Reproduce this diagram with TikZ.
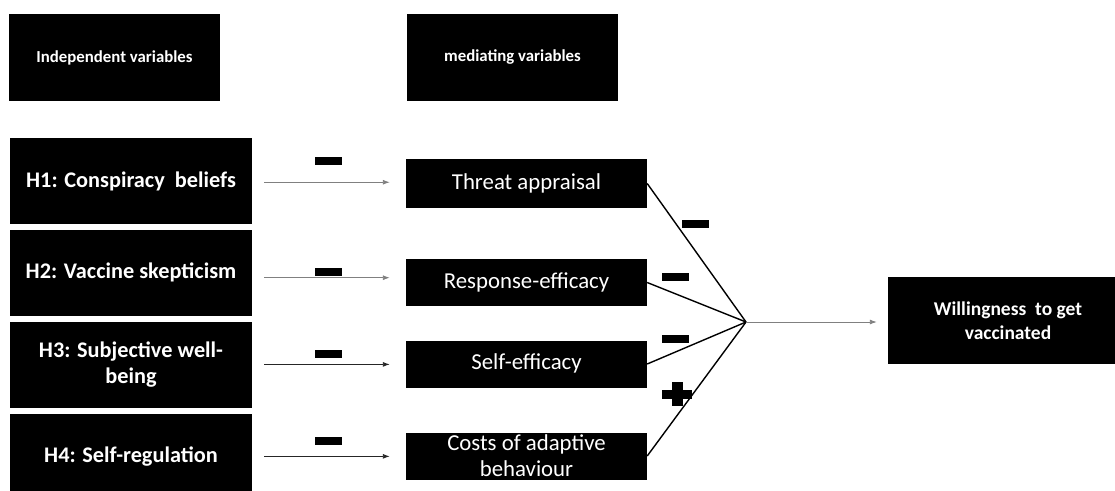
\documentclass[tikz,border=0pt]{standalone}
\usepackage{fontspec}
\setmainfont{Carlito}
\usetikzlibrary{positioning, arrows, arrows.meta, calc}

\begin{document}
\begin{tikzpicture}[x=1pt, y=-1pt,
    blackbox/.style = {shape=rectangle, fill=black, text=white,
    align=center, inner sep=0pt},
    headbox/.style = {blackbox, minimum width=211pt, minimum height=87pt,
    font=\bfseries\fontsize{16.8}{20}\selectfont},
    hypbox/.style = {blackbox, minimum width=242pt, minimum height=86pt,
    font=\bfseries\fontsize{22.3}{26}\selectfont},
    medbox/.style = {blackbox, minimum width=241pt, minimum height=47pt,
    font=\fontsize{22.8}{26}\selectfont},
    outbox/.style = {blackbox, minimum width=240pt, minimum height=87pt,
    font=\bfseries\fontsize{19.5}{24}\selectfont},
    negsign/.style = {shape=rectangle, fill=black, minimum width=27pt,
    minimum height=8pt, inner sep=0pt},
    line/.style={draw, line width=0.9pt, -{Latex[length=7pt, width=5pt]}},
    joinline/.style={draw, line width=1.4pt}]

  \clip (0,0) rectangle (1115,490);

  % column headers
  \node[headbox] (indep) at (114.5,57.5) {Independent variables};
  \node[headbox] (medi) at (512.5,57.5) {mediating variables};

  % hypotheses
  \node[hypbox] (h1) at (131,181) {H1: Conspiracy~ beliefs};
  \node[hypbox, below=5.5pt of h1] (h2) {H2: Vaccine skepticism};
  \node[hypbox, below=5.5pt of h2] (h3) {H3: Subjective well-\\being};
  \node[hypbox, below=5.5pt of h3] (h4) {H4: Self-regulation};

  % mediators
  \node[medbox, minimum height=49pt] (m1) at (526.5,183.5) {Threat appraisal};
  \node[medbox] (m2) at (526.5,282.5) {Response-efficacy};
  \node[medbox] (m3) at (526.5,364) {\raisebox{5pt}{Self-efficacy}};
  \node[medbox] (m4) at (526.5,456) {Costs of adaptive\\behaviour};

  \node[outbox] (will) at (1008,320.5) {Willingness~ to get\\vaccinated};

  \coordinate (hub) at (746,322);

  \foreach \i/\col in {1/gray, 2/gray, 3/black!85, 4/black!85} {
    \path (h\i.east) -- (m\i.west) coordinate[midway] (mid\i);
    \draw[line, \col, shorten <=12pt, shorten >=16pt] (h\i.east |- mid\i) -- (m\i.west |- mid\i);
    \draw[joinline] (m\i.east) -- (hub);
  }

  \draw[line, gray, shorten >=11pt] (hub) -- (hub -| will.west);

  % signs
  \node[negsign] (s1) at (328.5,161) {};
  \node[negsign] (s2) at (328.5,272) {};
  \node[negsign] (s3) at (328.5,354) {};
  \node[negsign] (s4) at (328.5,441) {};
  \node[negsign] (t1) at (695,223.5) {};
  \node[negsign] (t2) at (675,276.5) {};
  \node[negsign] (t3) at (675,338.5) {};
  \node[negsign, minimum width=30pt, minimum height=9pt] (t4) at (677,394) {};
  \node[negsign, minimum width=11pt, minimum height=24pt] (t4v) at (t4) {};

\end{tikzpicture}
\end{document}
